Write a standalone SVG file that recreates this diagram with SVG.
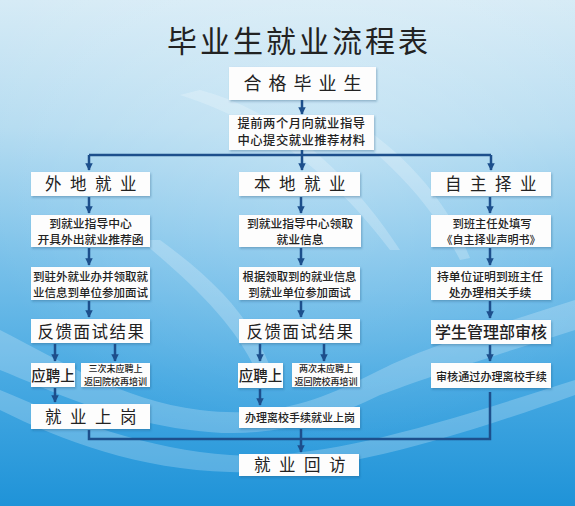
<svg xmlns="http://www.w3.org/2000/svg" width="575" height="506" viewBox="0 0 575 506">
<defs>
<linearGradient id="bg" x1="0" y1="0" x2="0" y2="1">
<stop offset="0" stop-color="#d6ebf6"/>
<stop offset="0.25" stop-color="#b5dcf1"/>
<stop offset="0.5" stop-color="#7cc2ea"/>
<stop offset="0.75" stop-color="#47a9e2"/>
<stop offset="1" stop-color="#1f93d8"/>
</linearGradient>
<radialGradient id="hl" cx="0.55" cy="0.3" r="0.6">
<stop offset="0" stop-color="#ffffff" stop-opacity="0.25"/>
<stop offset="1" stop-color="#ffffff" stop-opacity="0"/>
</radialGradient>
<filter id="sh" x="-10%" y="-20%" width="120%" height="150%">
<feDropShadow dx="1" dy="1.5" stdDeviation="1" flood-color="#1a4f7a" flood-opacity="0.35"/>
</filter>
<marker id="ah" viewBox="0 0 10 10" refX="9" refY="5" markerWidth="3" markerHeight="3" orient="auto" markerUnits="strokeWidth">
<path d="M0,0 L10,5 L0,10 z" fill="#1d4f8c"/>
</marker>
<style>
.box{fill:#fdfdfd;filter:url(#sh)}
.t{font-family:"Noto Sans CJK SC","Noto Sans",sans-serif;fill:#222;text-anchor:middle}
.big{font-size:16.5px;font-weight:400}
.sm{font-size:11.8px;font-weight:500}
.xs{font-size:9px;font-weight:500}
.ln{fill:none;stroke:#1d4f8c;stroke-width:2.5}
.ar{fill:none;stroke:#1d4f8c;stroke-width:2.5;marker-end:url(#ah)}
.sw{fill:#ffffff}
</style>
</defs>
<rect width="575" height="506" fill="url(#bg)"/>
<rect width="575" height="506" fill="url(#hl)"/>
<g id="swooshes" opacity="0.22">
<path class="sw" d="M0,330 C60,360 120,400 200,410 C280,420 330,395 380,370 C420,350 480,330 575,300 L575,330 C480,360 420,380 380,395 C320,425 260,440 190,430 C110,420 50,390 0,370 z"/>
<path class="sw" d="M0,390 C70,420 150,450 230,455 C320,460 420,430 575,380 L575,395 C420,450 320,475 230,472 C140,470 60,440 0,410 z"/>
<path class="sw" d="M140,240 C200,290 240,330 260,380 L275,380 C255,320 215,280 160,240 z"/>
<path class="sw" d="M180,95 C260,120 330,170 390,250 L400,250 C345,165 275,110 200,90 z"/>
<path class="sw" d="M330,120 C380,150 430,200 460,260 L470,258 C445,195 400,150 350,118 z"/>
</g>
<text class="t" x="299" y="52" style="font-size:30px;letter-spacing:3px;font-weight:400">毕业生就业流程表</text>

<g id="connectors">
<line class="ar" x1="302" y1="100" x2="302" y2="114"/>
<polyline class="ln" points="302,150 302,155"/>
<line class="ln" x1="89" y1="155" x2="491" y2="155"/>
<line class="ar" x1="89" y1="155" x2="89" y2="170"/>
<line class="ar" x1="302" y1="155" x2="302" y2="170"/>
<line class="ar" x1="491" y1="155" x2="491" y2="170"/>
<line class="ar" x1="89" y1="197" x2="89" y2="213"/>
<line class="ar" x1="89" y1="248" x2="89" y2="265"/>
<line class="ar" x1="89" y1="301" x2="89" y2="317"/>
<line class="ar" x1="55" y1="344" x2="55" y2="361"/>
<line class="ar" x1="115" y1="344" x2="115" y2="361"/>
<line class="ar" x1="55" y1="388" x2="55" y2="402"/>
<line class="ar" x1="301" y1="197" x2="301" y2="213"/>
<line class="ar" x1="301" y1="248" x2="301" y2="265"/>
<line class="ar" x1="301" y1="301" x2="301" y2="317"/>
<line class="ar" x1="260" y1="344" x2="260" y2="361"/>
<line class="ar" x1="324" y1="344" x2="324" y2="361"/>
<line class="ar" x1="260" y1="389" x2="260" y2="405"/>
<line class="ar" x1="490" y1="197" x2="490" y2="213"/>
<line class="ar" x1="490" y1="248" x2="490" y2="265"/>
<line class="ar" x1="490" y1="301" x2="490" y2="318"/>
<line class="ar" x1="490" y1="345" x2="490" y2="361"/>
<polyline class="ln" points="89,430 89,439 490,439 490,392"/>
<line class="ar" x1="301" y1="429" x2="301" y2="452"/>
</g>

<g id="n-qualified"><rect class="box" x="229" y="67" width="147" height="33"/><text class="t" x="306" y="90" style="font-size:18px;letter-spacing:7px">合格毕业生</text></g>
<g id="n-submit"><rect class="box" x="229" y="115" width="145" height="35"/><text class="t" x="301.5" y="128" style="font-size:12.3px;font-weight:500;letter-spacing:0.5px">提前两个月向就业指导</text><text class="t" x="301.5" y="145" style="font-size:12.3px;font-weight:500;letter-spacing:0.5px">中心提交就业推荐材料</text></g>

<g id="n-waidi"><rect class="box" x="31" y="172" width="119" height="24"/><text class="t big" x="95" y="190" style="letter-spacing:8.5px">外地就业</text></g>
<g id="n-waidi-2"><rect class="box" x="31" y="215" width="119" height="32"/><text class="t sm" x="90.5" y="227.5">到就业指导中心</text><text class="t sm" x="90.5" y="243.5">开具外出就业推荐函</text></g>
<g id="n-waidi-3"><rect class="box" x="31" y="267" width="119" height="33"/><text class="t sm" x="90.5" y="281" style="font-size:11.5px">到驻外就业办并领取就</text><text class="t sm" x="90.5" y="297" style="font-size:11.5px">业信息到单位参加面试</text></g>
<g id="n-waidi-fb"><rect class="box" x="31" y="319" width="119" height="24"/><text class="t big" x="91.5" y="337.5" style="letter-spacing:1.5px">反馈面试结果</text></g>
<g id="n-waidi-yes"><rect class="box" x="31" y="363" width="44" height="24"/><text class="t" x="53" y="381" style="font-size:14.5px;font-weight:500">应聘上</text></g>
<g id="n-waidi-no"><rect class="box" x="81" y="363" width="69" height="24"/><text class="t xs" x="115.5" y="372">三次未应聘上</text><text class="t xs" x="115.5" y="385">返回院校再培训</text></g>
<g id="n-waidi-job"><rect class="box" x="31" y="404" width="119" height="25"/><text class="t big" x="95" y="422.5" style="letter-spacing:8.5px">就业上岗</text></g>

<g id="n-bendi"><rect class="box" x="239" y="172" width="121" height="24"/><text class="t big" x="304" y="190" style="letter-spacing:8.5px">本地就业</text></g>
<g id="n-bendi-2"><rect class="box" x="239" y="215" width="122" height="32"/><text class="t sm" x="300" y="227.5">到就业指导中心领取</text><text class="t sm" x="300" y="243.5">就业信息</text></g>
<g id="n-bendi-3"><rect class="box" x="239" y="267" width="121" height="33"/><text class="t sm" x="299.5" y="281" style="font-size:11.4px">根据领取到的就业信息</text><text class="t sm" x="299.5" y="297" style="font-size:11.4px">到就业单位参加面试</text></g>
<g id="n-bendi-fb"><rect class="box" x="239" y="319" width="121" height="24"/><text class="t big" x="300.5" y="337.5" style="letter-spacing:1.5px">反馈面试结果</text></g>
<g id="n-bendi-yes"><rect class="box" x="238" y="363" width="45" height="25"/><text class="t" x="260.5" y="381" style="font-size:14.5px;font-weight:500">应聘上</text></g>
<g id="n-bendi-no"><rect class="box" x="292" y="363" width="68" height="24"/><text class="t xs" x="326" y="372">两次未应聘上</text><text class="t xs" x="326" y="385">返回院校再培训</text></g>
<g id="n-bendi-job"><rect class="box" x="239" y="407" width="121" height="21"/><text class="t sm" x="300" y="422" style="font-size:11px">办理离校手续就业上岗</text></g>

<g id="n-zizhu"><rect class="box" x="431" y="172" width="120" height="24"/><text class="t big" x="495" y="190" style="letter-spacing:8.5px">自主择业</text></g>
<g id="n-zizhu-2"><rect class="box" x="431" y="215" width="120" height="32"/><text class="t sm" x="492" y="227.5" style="font-size:11.3px">到班主任处填写</text><text class="t sm" x="491" y="243.5" style="font-size:11px">《自主择业声明书》</text></g>
<g id="n-zizhu-3"><rect class="box" x="431" y="267" width="120" height="33"/><text class="t sm" x="490" y="281">持单位证明到班主任</text><text class="t sm" x="490" y="297">处办理相关手续</text></g>
<g id="n-zizhu-audit"><rect class="box" x="431" y="320" width="120" height="24"/><text class="t" x="491" y="338" style="font-size:16px;font-weight:500">学生管理部审核</text></g>
<g id="n-zizhu-pass"><rect class="box" x="431" y="363" width="120" height="25"/><text class="t sm" x="491.5" y="381" style="font-size:11.1px">审核通过办理离校手续</text></g>

<g id="n-visit"><rect class="box" x="239" y="454" width="120" height="22"/><text class="t big" x="304" y="471" style="letter-spacing:8.5px">就业回访</text></g>
</svg>
